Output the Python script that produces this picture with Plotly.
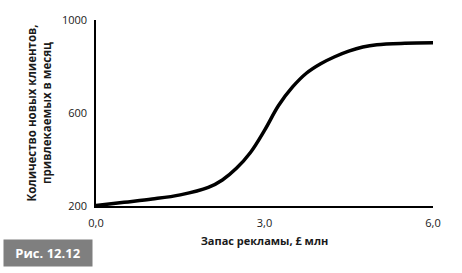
import plotly.graph_objects as go

# Data
ad_stock = [0.0, 0.5, 1.0, 1.5, 2.0, 2.25, 2.5, 2.75, 3.0, 3.25, 3.5, 3.75, 4.0, 4.25, 4.5, 4.75, 5.0, 5.5, 6.0]
new_clients = [202, 216, 230, 248, 280, 312, 362, 430, 525, 632, 712, 772, 812, 842, 866, 884, 894, 900, 902]

x_ticks = [0, 3, 6]
y_ticks = [200, 600, 1000]
x_title = "Запас рекламы, £ млн"
y_title = "Количество новых клиентов,<br>привлекаемых в месяц"
fig_label = "Рис. 12.12"

FONT = "Open Sans"

fig = go.Figure()
fig.add_trace(go.Scatter(
    x=ad_stock, y=new_clients, mode="lines",
    line=dict(color="black", width=3.5, shape="spline", smoothing=1.0),
    hoverinfo="skip", showlegend=False,
))

fig.update_layout(
    width=462, height=273,
    margin=dict(l=96, r=29, t=20, b=67),
    paper_bgcolor="white", plot_bgcolor="white",
    separators=", ",
    font=dict(family=FONT, size=11, color="#1a1a1a"),
    xaxis=dict(
        range=[0, 6], tickvals=x_ticks, tickformat=".1f",
        showgrid=False, zeroline=False, showline=True, linecolor="black", linewidth=1.5,
        ticks="", tickfont=dict(size=11), ticklabelstandoff=6,
        title=dict(text="<b>" + x_title + "</b>", font=dict(size=11), standoff=8),
    ),
    yaxis=dict(
        range=[200, 1000], tickvals=y_ticks,
        showgrid=False, zeroline=False, showline=True, linecolor="black", linewidth=1.5,
        ticks="", tickfont=dict(size=11), ticklabelstandoff=5,
        title=dict(text="<b>" + y_title + "</b>", font=dict(size=11.5), standoff=8),
    ),
    annotations=[dict(
        text="<b>" + fig_label + "</b>", xref="paper", yref="paper",
        x=(3 - 96) / 338, y=(206 - 239) / 186, xanchor="left", yanchor="top",
        showarrow=False, bgcolor="#7f7f7f", width=88, height=26, borderpad=0,
        font=dict(family=FONT, size=13, color="white"), align="center",
    )],
)

fig.write_html("out.html")
